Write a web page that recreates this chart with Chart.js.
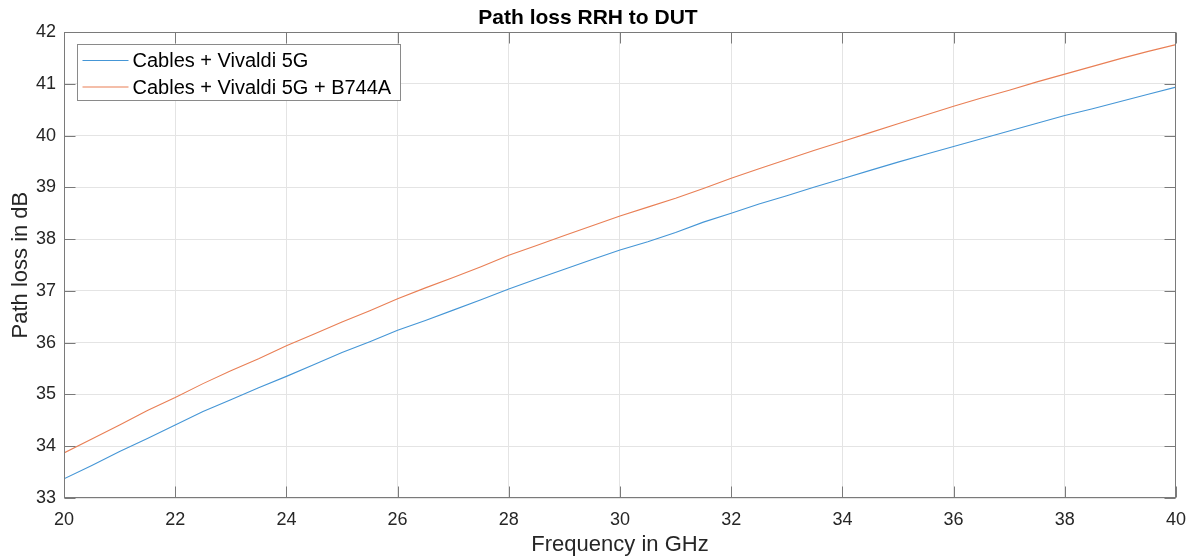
<!DOCTYPE html>
<html lang="en">
<head>
  <meta charset="UTF-8" />
  <title>Path loss RRH to DUT</title>
  <script src="https://cdn.jsdelivr.net/npm/chart.js"></script>
  <style>
    body {
      margin: 0;
      background: #fff;
    }
    .wrap {
      width: 1197px;
      height: 559px;
    }
  </style>
</head>
<body>
  <div class="wrap">
    <canvas id="lossChart" width="1197" height="559"></canvas>
  </div>

  <script>
    // frequency points (GHz), read every 0.5 GHz
    const freqs = [20, 20.5, 21, 21.5, 22, 22.5, 23, 23.5, 24, 24.5, 25, 25.5, 26, 26.5, 27, 27.5,
      28, 28.5, 29, 29.5, 30, 30.5, 31, 31.5, 32, 32.5, 33, 33.5, 34, 34.5, 35, 35.5, 36, 36.5,
      37, 37.5, 38, 38.5, 39, 39.5, 40];

    // Cables + Vivaldi 5G
    const lossVivaldi = [33.37, 33.63, 33.90, 34.15, 34.41, 34.67, 34.90, 35.13, 35.35, 35.58,
      35.81, 36.02, 36.24, 36.43, 36.63, 36.83, 37.04, 37.23, 37.42, 37.61, 37.79, 37.95, 38.13,
      38.33, 38.50, 38.68, 38.84, 39.01, 39.17, 39.33, 39.49, 39.64, 39.79, 39.94, 40.09, 40.24,
      40.39, 40.52, 40.66, 40.80, 40.94];

    // Cables + Vivaldi 5G + B744A
    const lossB744A = [33.87, 34.14, 34.41, 34.69, 34.94, 35.21, 35.46, 35.69, 35.94, 36.17,
      36.40, 36.62, 36.85, 37.06, 37.26, 37.47, 37.69, 37.88, 38.07, 38.26, 38.45, 38.62, 38.79,
      38.98, 39.18, 39.36, 39.54, 39.72, 39.89, 40.06, 40.23, 40.40, 40.57, 40.73, 40.88, 41.04,
      41.19, 41.34, 41.49, 41.63, 41.76];

    const seriesLabels = ['Cables + Vivaldi 5G', 'Cables + Vivaldi 5G + B744A'];
    const xTicks = [20, 22, 24, 26, 28, 30, 32, 34, 36, 38, 40];
    const yTicks = [33, 34, 35, 36, 37, 38, 39, 40, 41, 42];

    const axisColor = '#7a7a7a';
    const textColor = '#262626';
    const fontFamily = '"Liberation Sans", Arial, Helvetica, sans-serif';

    Chart.defaults.font.family = fontFamily;
    Chart.defaults.color = textColor;

    const toPoints = vals => vals.map((v, i) => ({ x: freqs[i], y: v }));

    // box, inward ticks on all sides and the legend in the top-left corner
    const matlabFrame = {
      id: 'matlabFrame',
      afterDraw(chart) {
        const { ctx, chartArea: a } = chart;
        const xs = chart.scales.x, ys = chart.scales.y;
        const L = Math.round(a.left) + 0.5, R = Math.round(a.right) - 0.5;
        const T = Math.round(a.top) + 0.5, B = Math.round(a.bottom) - 0.5;
        const tick = 11;
        ctx.save();
        ctx.strokeStyle = axisColor;
        ctx.lineWidth = 1;
        ctx.beginPath();
        xTicks.forEach(v => {
          const px = Math.round(xs.getPixelForValue(v)) + 0.5;
          ctx.moveTo(px, B); ctx.lineTo(px, B - tick);
          ctx.moveTo(px, T); ctx.lineTo(px, T + tick);
        });
        yTicks.forEach(v => {
          const py = Math.round(ys.getPixelForValue(v)) + 0.5;
          ctx.moveTo(L, py); ctx.lineTo(L + tick, py);
          ctx.moveTo(R, py); ctx.lineTo(R - tick, py);
        });
        ctx.stroke();
        ctx.strokeRect(L, T, R - L, B - T);

        // legend
        const lx = Math.round(a.left) + 13.5, ly = Math.round(a.top) + 12.5;
        const lw = 323, lh = 56;
        ctx.fillStyle = '#ffffff';
        ctx.fillRect(lx, ly, lw, lh);
        ctx.strokeStyle = '#8a8a8a';
        ctx.strokeRect(lx, ly, lw, lh);
        ctx.font = '20px ' + fontFamily;
        ctx.textBaseline = 'middle';
        ctx.textAlign = 'left';
        chart.data.datasets.forEach((ds, i) => {
          const rowY = ly + 16 + i * 26.5;
          ctx.strokeStyle = ds.borderColor;
          ctx.lineWidth = 1.2;
          ctx.beginPath();
          ctx.moveTo(lx + 5, rowY);
          ctx.lineTo(lx + 51, rowY);
          ctx.stroke();
          ctx.fillStyle = '#000000';
          ctx.fillText(ds.label, lx + 55, rowY + 1);
        });
        ctx.restore();
      }
    };

    new Chart(document.getElementById('lossChart'), {
      type: 'line',
      data: {
        datasets: [
          {
            label: seriesLabels[0],
            data: toPoints(lossVivaldi),
            borderColor: '#4596d6',
            borderWidth: 1.1,
            pointRadius: 0,
            tension: 0
          },
          {
            label: seriesLabels[1],
            data: toPoints(lossB744A),
            borderColor: '#e97f55',
            borderWidth: 1.1,
            pointRadius: 0,
            tension: 0
          }
        ]
      },
      options: {
        responsive: false,
        animation: false,
        layout: { padding: { left: 0, right: 21, top: 0, bottom: 0 } },
        plugins: {
          legend: { display: false },
          tooltip: { enabled: false },
          title: {
            display: true,
            text: 'Path loss RRH to DUT',
            color: '#000000',
            font: { size: 21, weight: 'bold' },
            padding: { top: 6, bottom: 1 }
          }
        },
        scales: {
          x: {
            type: 'linear',
            min: 20,
            max: 40,
            afterFit: s => { s.height = 61; },
            afterBuildTicks: s => { s.ticks = xTicks.map(v => ({ value: v })); },
            ticks: { font: { size: 18 }, padding: 11, color: textColor, maxRotation: 0 },
            grid: { color: '#e4e4e4', drawTicks: false },
            border: { display: false },
            title: {
              display: true,
              text: 'Frequency in GHz',
              color: textColor,
              font: { size: 22 },
              padding: { top: 0, bottom: 1 }
            }
          },
          y: {
            min: 33,
            max: 42,
            afterFit: s => { s.width = 64; },
            afterBuildTicks: s => { s.ticks = yTicks.map(v => ({ value: v })); },
            ticks: { font: { size: 18 }, padding: 8, color: textColor },
            grid: { color: '#e4e4e4', drawTicks: false },
            border: { display: false },
            title: {
              display: true,
              text: 'Path loss in dB',
              color: textColor,
              font: { size: 22 },
              padding: { top: 7.5, bottom: 0 }
            }
          }
        }
      },
      plugins: [matlabFrame]
    });
  </script>
</body>
</html>
